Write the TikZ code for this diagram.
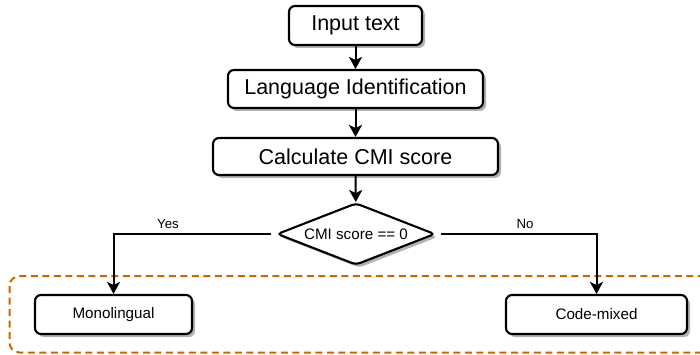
\documentclass[tikz,border=0pt]{standalone}
\usepackage{fontspec}
\setmainfont{Liberation Sans}
\usetikzlibrary{arrows.meta,shapes.geometric,shadows}
\definecolor{dashorange}{HTML}{CC6600}
\begin{document}
\begin{tikzpicture}[x=1pt,y=-1pt,
  procbox/.style={draw=black,line width=2.1pt,rounded corners=6pt,fill=white,
    drop shadow={shadow xshift=3pt,shadow yshift=-3pt,fill=black!30,opacity=1},
    inner sep=0pt,font=\fontsize{21.5}{24}\selectfont},
  outbox/.style={procbox,font=\fontsize{15.2}{18}\selectfont},
  decision/.style={diamond,draw=black,line width=2.1pt,rounded corners=4pt,fill=white,
    drop shadow={shadow xshift=3pt,shadow yshift=-3pt,fill=black!30,opacity=1},
    inner sep=0pt,minimum width=158pt,minimum height=62pt,aspect=2.55,
    font=\fontsize{15.2}{18}\selectfont},
  flow/.style={draw=black,line width=2pt,-{Stealth[length=12pt,width=13pt,inset=3pt]}},
  edgelabel/.style={font=\fontsize{13.3}{15}\selectfont},
  group/.style={draw=dashorange,line width=2pt,rounded corners=10pt,dash pattern=on 7pt off 4.5pt}
]
\useasboundingbox (0,0) rectangle (700,355);
% dashed group
\draw[group] (9.5,276) rectangle (712,352.5);
% nodes
\node[procbox,minimum width=133pt,minimum height=39pt] (inp) at (355.5,25.5) {Input text};
\node[procbox,minimum width=255pt,minimum height=38pt] (lid) at (355.5,89) {Language Identification};
\node[procbox,minimum width=285pt,minimum height=37pt] (cmi) at (355.5,156.5) {Calculate CMI score};
\node[decision] (dec) at (356,234) {CMI score == 0};
\node[outbox,minimum width=157pt,minimum height=39pt] (mono) at (113.5,314.5) {Monolingual};
\node[outbox,minimum width=181pt,minimum height=39pt] (cm) at (596.5,314.5) {Code-mixed};
% connectors
\draw[flow] (inp) -- (lid);
\draw[flow] (lid) -- (cmi);
\draw[flow] (cmi) -- (dec);
\draw[flow,shorten <=5pt] (dec.west) -| (mono.north);
\draw[flow,shorten <=5pt] (dec.east) -| (cm.north);
% labels
\node[edgelabel] (yes) at (168,224) {Yes};
\node[edgelabel] (no) at (525,224) {No};
\end{tikzpicture}
\end{document}
